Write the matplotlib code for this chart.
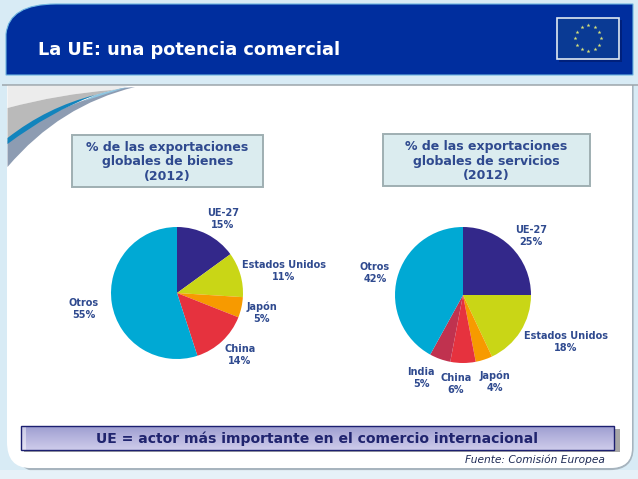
import numpy as np
import matplotlib
matplotlib.use("Agg")
import matplotlib.pyplot as plt
from matplotlib.patches import PathPatch, Rectangle
from matplotlib.path import Path

W, H = 638, 479
title = "La UE: una potencia comercial"
box_left = "% de las exportaciones\nglobales de bienes\n(2012)"
box_right = "% de las exportaciones\nglobales de servicios\n(2012)"
banner = "UE = actor más importante en el comercio internacional"
source = "Fuente: Comisión Europea"

goods_labels = ["UE-27", "Estados Unidos", "Japón", "China", "Otros"]
goods_values = [15, 11, 5, 14, 55]
goods_colors = ["#33288a", "#c9d616", "#f79a00", "#e6323e", "#00a9d4"]
goods_label_xy = [(223, 219), (284, 271), (262, 313), (240, 355), (84, 309)]

serv_labels = ["UE-27", "Estados Unidos", "Japón", "China", "India", "Otros"]
serv_values = [25, 18, 4, 6, 5, 42]
serv_colors = ["#33288a", "#c9d616", "#f79a00", "#e6323e", "#c0324f", "#00a9d4"]
serv_label_xy = [(531, 236), (566, 342), (495, 382), (456, 384), (421, 378), (375, 273)]

TXT = "#2f4a8f"
fig = plt.figure(figsize=(W / 100, H / 100), dpi=100, facecolor="#d8ebf5")
bg = fig.add_axes([0, 0, 1, 1])
bg.set_xlim(0, W)
bg.set_ylim(H, 0)
bg.axis("off")

def shape(verts, codes, **kw):
    bg.add_patch(PathPatch(Path(verts, codes), **kw))

M, L, C, Z = Path.MOVETO, Path.LINETO, Path.CURVE3, Path.CLOSEPOLY

# lower page band
bg.add_patch(Rectangle((0, 470), W, 9, facecolor="#e6f1f8", edgecolor="none"))

# white panel, shadow then fill
shape([(632.5, 85), (632.5, 448), (632.5, 469), (610, 469), (30, 469), (28, 469), (24, 466)],
      [M, L, C, C, L, C, C], facecolor="none", edgecolor="#a7b4be", lw=1.6)
shape([(7, 85), (632, 85), (632, 448), (632, 468), (610, 468), (30, 468), (7, 468), (7, 442), (7, 85), (7, 85)],
      [M, L, L, C, C, L, C, C, L, Z], facecolor="white", edgecolor="none")
bg.plot([2, W], [85, 85], color="#9da5ab", lw=1.1, solid_capstyle="butt")
# header
shape([(6, 75), (6, 34), (9, 4), (56, 4), (633, 4), (633, 75), (6, 75)],
      [M, L, C, C, L, L, Z], facecolor="#002e9e", edgecolor="#6fb6e0", lw=0.8)
bg.text(38, 49.5, title, color="white", fontsize=12.8, fontweight="bold", va="center", ha="left")

# swoosh
shape([(7.5, 86), (128, 86), (112, 90), (60, 94), (7.5, 108), (7.5, 86)], [M, L, L, C, C, Z],
      facecolor="#ececec", edgecolor="none")
shape([(7.5, 108), (60, 94), (112, 90), (122, 88), (50, 105), (7.5, 141), (7.5, 108)], [M, C, C, L, C, C, Z],
      facecolor="#bababa", edgecolor="none")
shape([(7.5, 141), (50, 108), (122, 88), (135, 87), (60, 105), (7.5, 167), (7.5, 141)], [M, C, C, L, C, C, Z],
      facecolor="#8d9cb2", edgecolor="none")
shape([(7.5, 138), (47, 107), (95, 95), (50, 112), (7.5, 144), (7.5, 138)], [M, C, C, C, C, Z],
      facecolor="#1284bd", edgecolor="none")
shape([(95, 95), (112, 90), (128, 87), (112, 92), (84, 101), (95, 95)], [M, C, C, C, C, Z],
      facecolor="#8fc5e0", edgecolor="none")

# flag
bg.add_patch(Rectangle((559, 20), 63, 42, facecolor="#00207c", edgecolor="none", zorder=2))
bg.add_patch(Rectangle((557, 18), 62, 41, facecolor="#0a3a94", edgecolor="#dfe9f2", lw=1.2, zorder=3))
ang = np.deg2rad(np.arange(0, 360, 30))
bg.scatter(588 + 13 * np.cos(ang), 38 + 13 * np.sin(ang), marker="*", s=9, color="#d8e27a", linewidths=0, zorder=4)

# title boxes
for x0, y0, w, h, txt, ty in [(72, 135, 191, 52, box_left, 162), (383, 134, 207, 52, box_right, 161)]:
    bg.add_patch(Rectangle((x0, y0), w, h, facecolor="#dbecef", edgecolor="#9fafb2", lw=1.4))
    bg.text(x0 + w / 2, ty, txt, color=TXT, fontsize=9, fontweight="bold", ha="center", va="center",
            linespacing=1.12)

# banner
bg.add_patch(Rectangle((24, 429), 596, 23, facecolor="#a6a6a6", edgecolor="none", zorder=1))
grad = np.linspace(0, 1, 64)[:, None]
top = np.array([0.62, 0.62, 0.82])
bot = np.array([0.81, 0.80, 0.92])
img = np.zeros((64, 1, 3))
img[:, 0, :] = top + (bot - top) * grad
bg.imshow(img, extent=(21, 614, 450, 426), aspect="auto", zorder=2, interpolation="bilinear")
bg.set_xlim(0, W)
bg.set_ylim(H, 0)
bg.add_patch(Rectangle((21, 426), 5, 24, facecolor="white", edgecolor="none", alpha=0.45, zorder=2.5))
bg.add_patch(Rectangle((21, 426), 593, 24, facecolor="none", edgecolor="#1c1f70", lw=1, zorder=3))
bg.text(317.5, 438.5, banner, color="#20246e", fontsize=10.1, fontweight="bold", ha="center", va="center", zorder=4)
bg.text(605, 460, source, color="#1d2a55", fontsize=7.7, style="italic", ha="right", va="center")

def pie(cx, cy, r, values, colors, labels, label_xy):
    ax = fig.add_axes([(cx - r) / W, 1 - (cy + r) / H, 2 * r / W, 2 * r / H])
    ax.pie(values, colors=colors, startangle=90, counterclock=False, radius=1)
    ax.set_xlim(-1, 1)
    ax.set_ylim(-1, 1)
    ax.set_aspect("equal")
    for lab, v, (x, y) in zip(labels, values, label_xy):
        bg.text(x, y, f"{lab}\n{v}%", color=TXT, fontsize=7, fontweight="bold", ha="center", va="center",
                linespacing=1.2)

pie(177, 293, 66, goods_values, goods_colors, goods_labels, goods_label_xy)
pie(463, 295, 68, serv_values, serv_colors, serv_labels, serv_label_xy)

fig.savefig("out.png", dpi=100, facecolor=fig.get_facecolor())
